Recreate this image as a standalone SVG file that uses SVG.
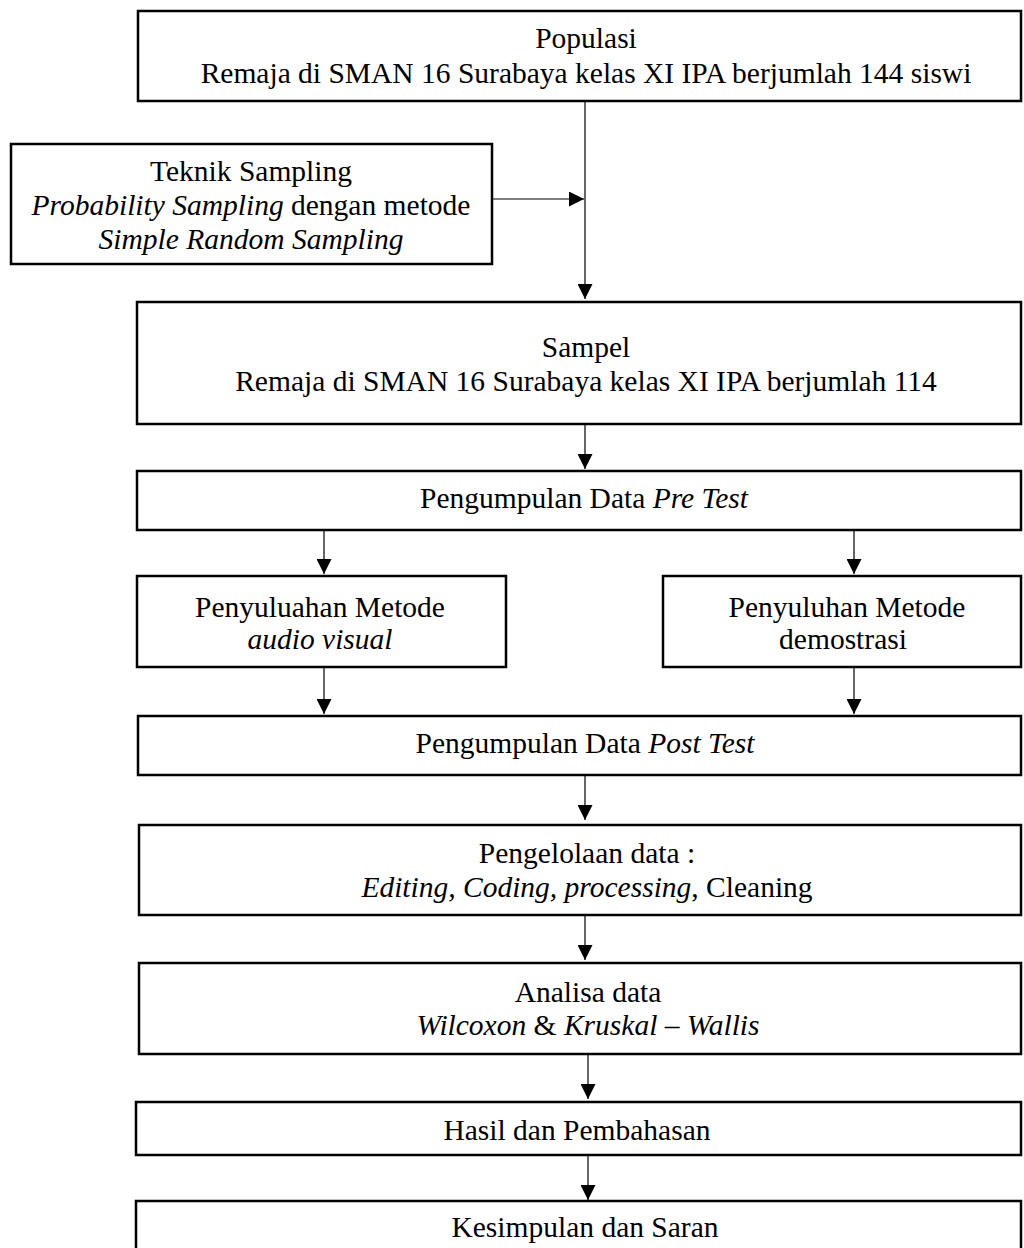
<svg xmlns="http://www.w3.org/2000/svg" width="1024" height="1248" viewBox="0 0 1024 1248">
<defs>
<style>
.box{fill:#fff;stroke:#000;stroke-width:2.5}
.t{font-family:"Liberation Serif","Times New Roman",serif;font-size:29.5px;fill:#000;text-anchor:middle}
.i{font-style:italic}
.c{stroke:#000;stroke-width:1.2;fill:none}
</style>
<marker id="ah" markerUnits="userSpaceOnUse" markerWidth="15" markerHeight="15" refX="15" refY="7.5" orient="auto">
<path d="M0,0 L15,7.5 L0,15 Z" fill="#000"/>
</marker>
</defs>
<rect width="1024" height="1248" fill="#fff"/>
<g id="connectors">
<line class="c" x1="585" y1="101" x2="585" y2="299" marker-end="url(#ah)"/>
<line class="c" x1="492" y1="199" x2="584" y2="199" marker-end="url(#ah)"/>
<line class="c" x1="585" y1="424" x2="585" y2="469" marker-end="url(#ah)"/>
<line class="c" x1="324" y1="530" x2="324" y2="574" marker-end="url(#ah)"/>
<line class="c" x1="854" y1="530" x2="854" y2="574" marker-end="url(#ah)"/>
<line class="c" x1="324" y1="667" x2="324" y2="714" marker-end="url(#ah)"/>
<line class="c" x1="854" y1="667" x2="854" y2="714" marker-end="url(#ah)"/>
<line class="c" x1="585" y1="775" x2="585" y2="820" marker-end="url(#ah)"/>
<line class="c" x1="585" y1="915" x2="585" y2="960" marker-end="url(#ah)"/>
<line class="c" x1="588" y1="1054" x2="588" y2="1099" marker-end="url(#ah)"/>
<line class="c" x1="588" y1="1155" x2="588" y2="1200" marker-end="url(#ah)"/>
</g>
<g id="populasi">
<rect class="box" x="138" y="11" width="883" height="90"/>
<text class="t" x="586" y="48">Populasi</text>
<text class="t" x="586" y="83">Remaja di SMAN 16 Surabaya kelas XI IPA berjumlah 144 siswi</text>
</g>
<g id="teknik">
<rect class="box" x="11" y="144" width="481" height="120"/>
<text class="t" x="251" y="181">Teknik Sampling</text>
<text class="t" x="251" y="215"><tspan class="i">Probability Sampling</tspan> dengan metode</text>
<text class="t" x="251" y="249" font-style="italic">Simple Random Sampling</text>
</g>
<g id="sampel">
<rect class="box" x="137" y="302" width="884" height="122"/>
<text class="t" x="586" y="357">Sampel</text>
<text class="t" x="586" y="391">Remaja di SMAN 16 Surabaya kelas XI IPA berjumlah 114</text>
</g>
<g id="pretest">
<rect class="box" x="137" y="471" width="884" height="59"/>
<text class="t" x="584" y="508">Pengumpulan Data <tspan class="i">Pre Test</tspan></text>
</g>
<g id="audiovisual">
<rect class="box" x="137" y="576" width="369" height="91"/>
<text class="t" x="320" y="617">Penyuluahan Metode</text>
<text class="t" x="320" y="649" font-style="italic">audio visual</text>
</g>
<g id="demostrasi">
<rect class="box" x="663" y="576" width="358" height="91"/>
<text class="t" x="847" y="617">Penyuluhan Metode</text>
<text class="t" x="843" y="649">demostrasi</text>
</g>
<g id="posttest">
<rect class="box" x="138" y="716" width="883" height="59"/>
<text class="t" x="585" y="753">Pengumpulan Data <tspan class="i">Post Test</tspan></text>
</g>
<g id="pengelolaan">
<rect class="box" x="139" y="825" width="882" height="90"/>
<text class="t" x="587" y="863">Pengelolaan data :</text>
<text class="t" x="587" y="897"><tspan class="i">Editing, Coding, processing</tspan>, Cleaning</text>
</g>
<g id="analisa">
<rect class="box" x="139" y="963" width="882" height="91"/>
<text class="t" x="588" y="1002">Analisa data</text>
<text class="t" x="588" y="1035"><tspan class="i">Wilcoxon</tspan> &amp; <tspan class="i">Kruskal – Wallis</tspan></text>
</g>
<g id="hasil">
<rect class="box" x="136" y="1102" width="885" height="53"/>
<text class="t" x="577" y="1140">Hasil dan Pembahasan</text>
</g>
<g id="kesimpulan">
<rect class="box" x="136" y="1201" width="885" height="60"/>
<text class="t" x="585" y="1237">Kesimpulan dan Saran</text>
</g>
</svg>
